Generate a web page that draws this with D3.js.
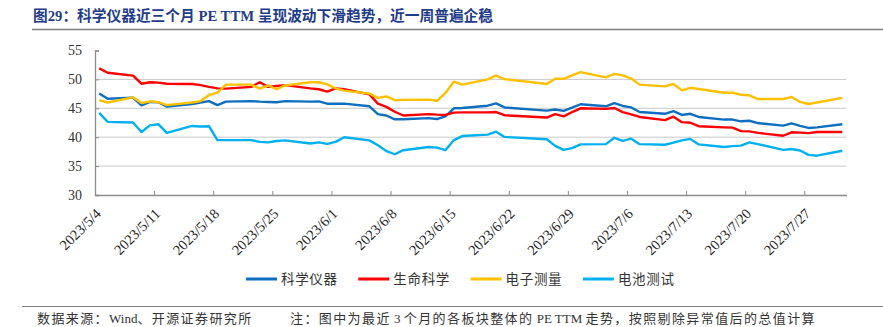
<!DOCTYPE html>
<html>
<head>
<meta charset="utf-8">
<script src="https://cdn.jsdelivr.net/npm/d3@7"></script>
<style>
  body { margin: 0; background: #fff; }
  svg { display: block; }
</style>
</head>
<body>
<svg id="chart" width="883" height="327"></svg>
<script>
// Trading days (weekends and the Dragon Boat holiday are absent)
const dates = [
  "2023-05-04","2023-05-05","2023-05-08","2023-05-09","2023-05-10","2023-05-11","2023-05-12",
  "2023-05-15","2023-05-16","2023-05-17","2023-05-18","2023-05-19","2023-05-22","2023-05-23",
  "2023-05-24","2023-05-25","2023-05-26","2023-05-29","2023-05-30","2023-05-31","2023-06-01",
  "2023-06-02","2023-06-05","2023-06-06","2023-06-07","2023-06-08","2023-06-09","2023-06-12",
  "2023-06-13","2023-06-14","2023-06-15","2023-06-16","2023-06-19","2023-06-20","2023-06-21",
  "2023-06-26","2023-06-27","2023-06-28","2023-06-29","2023-06-30","2023-07-03","2023-07-04",
  "2023-07-05","2023-07-06","2023-07-07","2023-07-10","2023-07-11","2023-07-12","2023-07-13",
  "2023-07-14","2023-07-17","2023-07-18","2023-07-19","2023-07-20","2023-07-21","2023-07-24",
  "2023-07-25","2023-07-26","2023-07-27","2023-07-28","2023-07-31"
];

// PE TTM by sector
const instruments = [ // 科学仪器
  47.55,46.65,46.85,45.5,46.1,46.05,45.3,45.75,46.0,46.25,45.55,46.15,46.25,46.15,46.1,46.05,
  46.25,46.15,46.2,45.8,45.8,45.8,45.35,44.0,43.75,43.1,43.1,43.3,43.15,43.6,45.0,45.05,45.45,
  45.85,45.15,44.6,44.8,44.55,45.1,45.7,45.35,45.9,45.4,45.15,44.35,44.05,44.5,43.85,44.05,43.5,
  43.05,43.05,42.75,42.85,42.45,42.0,42.4,41.95,41.6,41.7,42.25
];
const lifeScience = [ // 生命科学
  51.9,51.15,50.65,49.25,49.5,49.45,49.25,49.2,49.0,48.7,48.45,48.4,48.7,49.5,48.7,48.85,
  49.0,48.45,48.3,47.9,48.45,48.3,47.4,45.8,45.25,44.4,43.75,44.0,43.9,43.85,44.25,44.3,44.3,
  44.35,43.8,43.4,44.0,43.6,44.35,45.0,44.9,45.05,44.35,43.95,43.5,42.95,43.55,42.6,42.5,41.9,
  41.7,41.65,41.05,41.0,40.75,40.25,40.85,40.8,40.7,40.9,40.9
];
const electronicMeasure = [ // 电子测量
  46.4,46.0,46.9,45.9,46.2,46.05,45.55,46.0,46.25,47.3,47.7,49.1,49.1,48.4,48.95,48.3,
  48.95,49.5,49.5,49.15,48.45,48.05,47.55,46.8,47.05,46.4,46.45,46.5,46.3,47.65,49.6,49.1,50.0,
  50.65,50.05,49.2,50.1,50.1,50.7,51.25,50.35,50.95,50.7,50.15,49.1,48.8,49.2,48.1,48.55,48.35,
  47.7,47.7,47.35,47.25,46.6,46.6,46.95,46.1,45.75,46.0,46.8
];
const batteryTest = [ // 电池测试
  44.2,42.65,42.55,40.9,42.05,42.25,40.75,41.95,41.85,41.9,39.5,39.5,39.5,39.2,39.1,39.35,
  39.45,38.9,39.1,38.85,39.2,40.0,39.45,38.6,37.6,37.05,37.75,38.3,38.2,37.75,39.5,40.2,40.45,
  40.95,40.05,39.65,38.5,37.8,38.1,38.75,38.8,39.9,39.35,39.75,38.8,38.7,39.05,39.45,39.7,38.75,
  38.3,38.45,38.55,39.1,38.8,37.8,37.95,37.7,36.95,36.8,37.65
];

const seriesNames = ["科学仪器", "生命科学", "电子测量", "电池测试"];
const seriesValues = [instruments, lifeScience, electronicMeasure, batteryTest];
const seriesColors = ["#0E6FC1", "#FF0000", "#FFC000", "#00B0F0"];

const xTickDates = [
  "2023-05-04","2023-05-11","2023-05-18","2023-05-25","2023-06-01","2023-06-08","2023-06-15",
  "2023-06-22","2023-06-29","2023-07-06","2023-07-13","2023-07-20","2023-07-27"
];
const yTicks = [30, 35, 40, 45, 50, 55];

const titleText = "图29：科学仪器近三个月 PE TTM 呈现波动下滑趋势，近一周普遍企稳";
const sourceText = "数据来源：Wind、开源证券研究所";
const noteText = "注：图中为最近 3 个月的各板块整体的 PE TTM 走势，按照剔除异常值后的总值计算";

// ---- layout ----
const svg = d3.select("#chart");
const plot = { left: 95, right: 846.5, top: 50.5, bottom: 195 };
const parse = d3.utcParse("%Y-%m-%d");
const fmt = d3.utcFormat("%Y/%-m/%-d");
const HALF_DAY = 12 * 3600 * 1000;

const x = d3.scaleUtc()
  .domain([parse("2023-05-04"), parse("2023-08-01")])
  .range([plot.left, plot.right]);
const y = d3.scaleLinear()
  .domain([30, 55])
  .range([plot.bottom, plot.top]);

const serif = "'Liberation Serif', 'Times New Roman', 'Noto Sans CJK SC', serif";
const cjk = "'Liberation Serif', 'Noto Sans CJK SC', sans-serif";

// Writes a string as tspans: CJK runs get extra tracking, Latin runs do not
function trackedText(sel, str, tracking) {
  const runs = str.match(/[\x00-\x7F]+|[^\x00-\x7F]+/g);
  sel.selectAll("tspan")
    .data(runs)
    .join("tspan")
    .attr("letter-spacing", d => /^[\x00-\x7F]+$/.test(d) ? 0 : tracking)
    .text(d => d);
}

// title and rules
svg.append("text")
  .attr("x", 33).attr("y", 21)
  .attr("font-family", cjk).attr("font-weight", "bold").attr("font-size", 15)
  .attr("fill", "#1F3C8A")
  .attr("textLength", 460).attr("lengthAdjust", "spacingAndGlyphs")
  .text(titleText);
svg.append("line")
  .attr("x1", 32).attr("x2", 883).attr("y1", 29.5).attr("y2", 29.5)
  .attr("stroke", "#7f7f7f").attr("stroke-width", 1.5);

// gridlines
svg.append("g")
  .selectAll("line")
  .data(yTicks.filter(v => v > 30 && v < 55))
  .join("line")
  .attr("x1", plot.left).attr("x2", plot.right)
  .attr("y1", d => y(d)).attr("y2", d => y(d))
  .attr("stroke", "#c9c9c9").attr("stroke-width", 1);

// y axis
const yAxis = svg.append("g")
  .attr("transform", `translate(${plot.left},0)`)
  .call(d3.axisLeft(y).tickValues(yTicks).tickSize(-4).tickPadding(13));
yAxis.select(".domain").attr("stroke", "#8c8c8c").attr("stroke-width", 1.3);
yAxis.selectAll(".tick line").attr("stroke", "#8c8c8c");
yAxis.selectAll("text")
  .attr("font-family", serif).attr("font-size", 14).attr("fill", "#333");

// x axis
const xAxis = svg.append("g")
  .attr("transform", `translate(0,${plot.bottom})`)
  .call(d3.axisBottom(x).tickValues(xTickDates.map(parse)).tickSize(-4).tickSizeOuter(0).tickFormat(fmt));
xAxis.select(".domain").attr("stroke", "#8c8c8c").attr("stroke-width", 1.3);
xAxis.selectAll(".tick line").attr("stroke", "#8c8c8c");
xAxis.selectAll("text")
  .attr("font-family", serif).attr("font-size", 14.5).attr("fill", "#222")
  .attr("text-anchor", "end")
  .attr("dy", 0)
  .attr("transform", "translate(6.5,19.5) rotate(-45)")
  .attr("y", 0).attr("x", 0);

// series lines, each point centred in its day
const line = d3.line()
  .x((d, i) => x(new Date(parse(dates[i]).getTime() + HALF_DAY)))
  .y(d => y(d));

svg.append("g")
  .selectAll("path")
  .data(seriesValues)
  .join("path")
  .attr("d", d => line(d))
  .attr("fill", "none")
  .attr("stroke", (d, i) => seriesColors[i])
  .attr("stroke-width", 2.4)
  .attr("stroke-linejoin", "round");

// legend
const legend = svg.append("g").attr("transform", "translate(246,279)");
const item = legend.selectAll("g")
  .data(seriesNames)
  .join("g")
  .attr("transform", (d, i) => `translate(${i * 112.3},0)`);
item.append("line")
  .attr("x1", 0).attr("x2", 31).attr("y1", 0).attr("y2", 0)
  .attr("stroke", (d, i) => seriesColors[i]).attr("stroke-width", 3);
item.append("text")
  .attr("x", 35).attr("y", 5)
  .attr("font-family", cjk).attr("font-size", 13.5).attr("fill", "#333")
  .attr("textLength", 56).attr("lengthAdjust", "spacing")
  .text(d => d);

// footer
svg.append("line")
  .attr("x1", 22).attr("x2", 883).attr("y1", 306.5).attr("y2", 306.5)
  .attr("stroke", "#7f7f7f").attr("stroke-width", 1);
svg.append("text")
  .attr("x", 37).attr("y", 323)
  .attr("font-family", cjk).attr("font-size", 13).attr("fill", "#333")
  .call(trackedText, sourceText, 1.4);
svg.append("text")
  .attr("x", 290).attr("y", 323)
  .attr("font-family", cjk).attr("font-size", 13).attr("fill", "#333")
  .call(trackedText, noteText, 1.4);
</script>
</body>
</html>
